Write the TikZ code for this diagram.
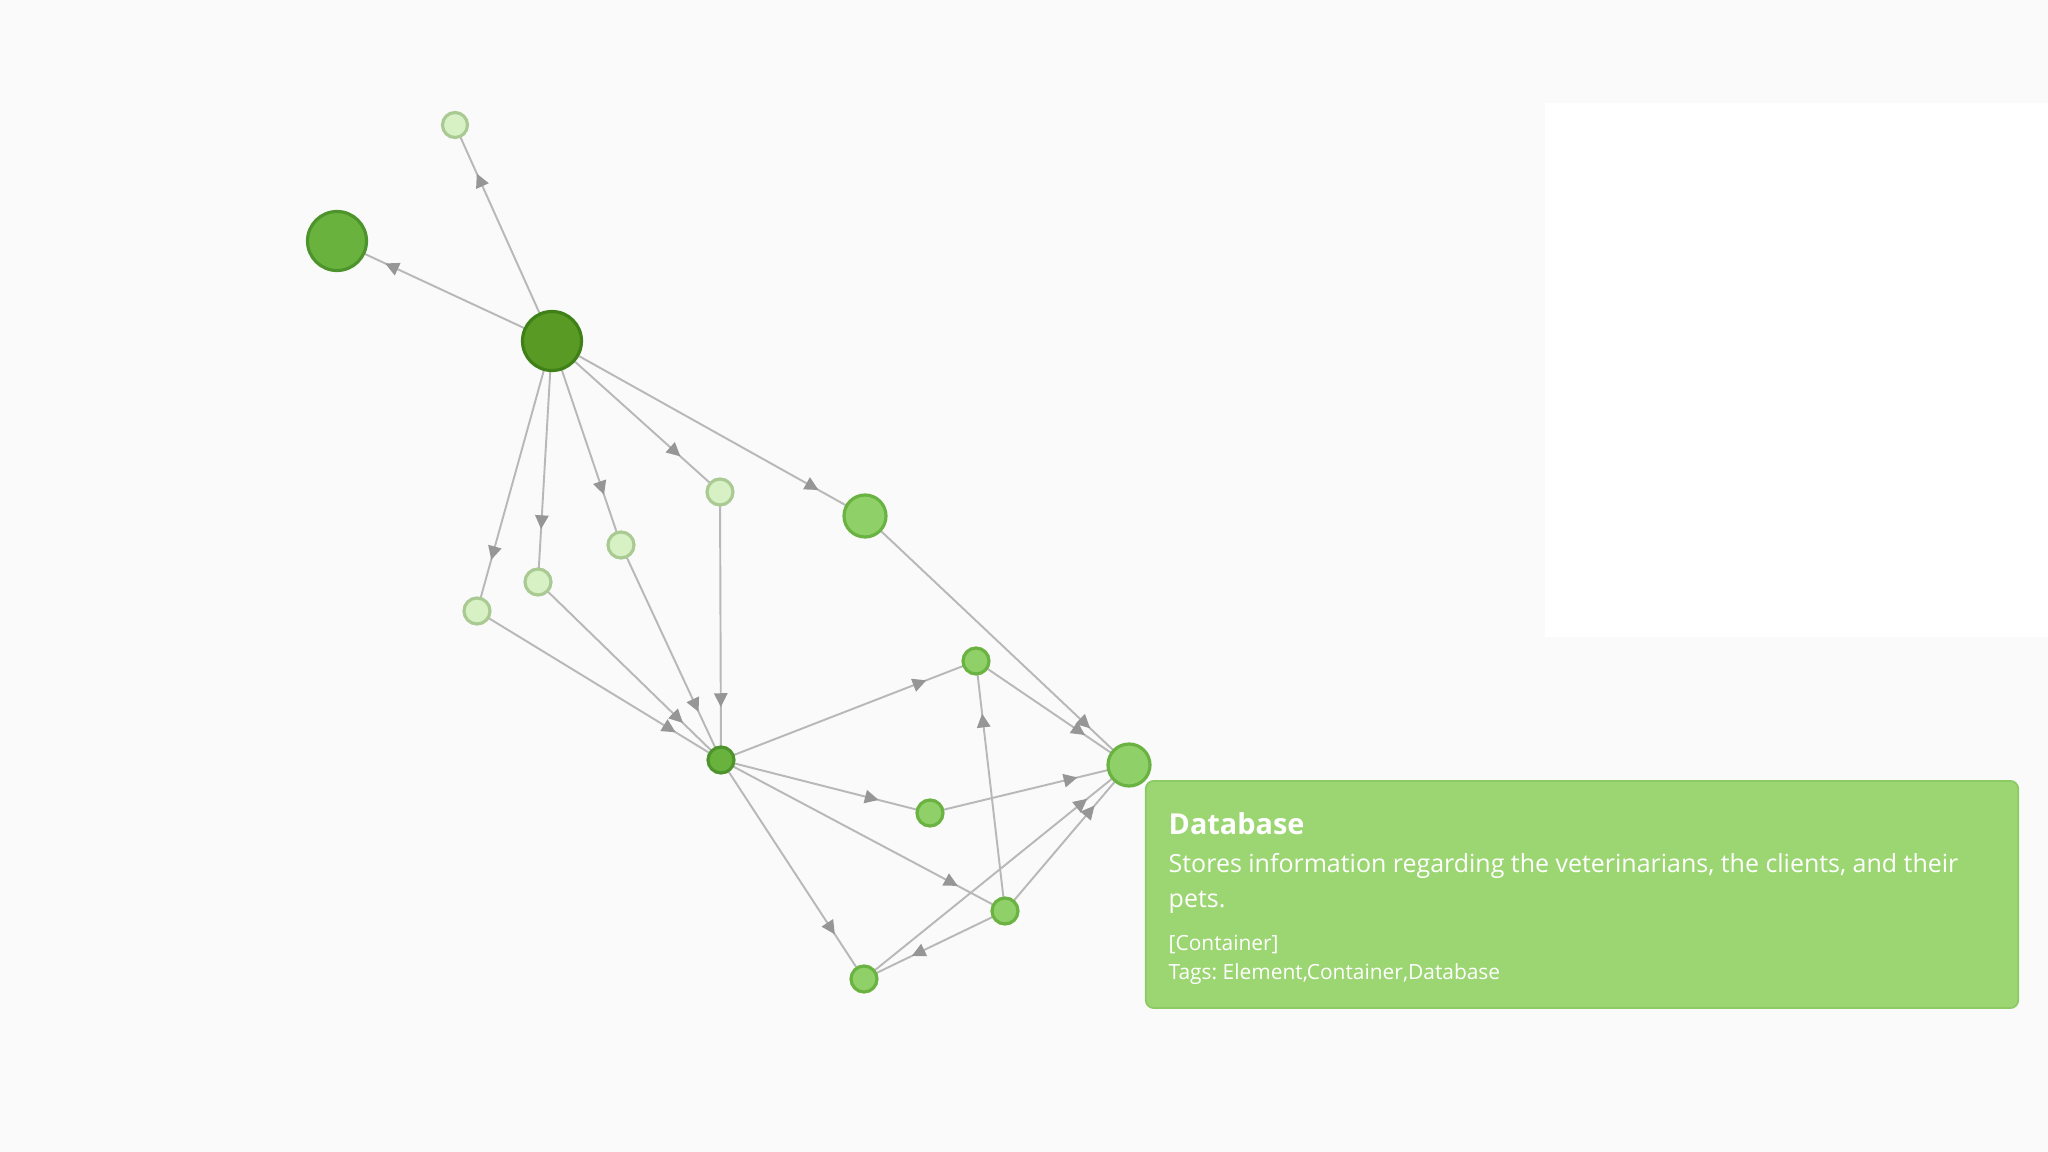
\documentclass[tikz,border=0pt]{standalone}
\usepackage{fontspec}
\setmainfont{Open Sans}
\usetikzlibrary{arrows.meta,decorations.markings,backgrounds}
\frenchspacing

\definecolor{canvas}{RGB}{250,250,250}
\definecolor{linkgray}{RGB}{184,184,184}
\definecolor{arrowgray}{RGB}{150,150,150}
\definecolor{palefill}{RGB}{216,241,196}
\definecolor{paleedge}{RGB}{170,202,148}
\definecolor{midfill}{RGB}{143,208,104}
\definecolor{midedge}{RGB}{106,178,66}
\definecolor{greenfill}{RGB}{106,178,62}
\definecolor{greenedge}{RGB}{78,148,44}
\definecolor{deepfill}{RGB}{88,154,36}
\definecolor{deepedge}{RGB}{64,128,24}
\definecolor{boxfill}{RGB}{156,214,115}
\definecolor{boxedge}{RGB}{140,202,100}

\begin{document}
\begin{tikzpicture}[
  x=0.01cm, y=-0.01cm,
  blob/.style={circle, inner sep=0pt, line width=0.9pt, minimum size=#1},
  pale/.style={blob=#1, draw=paleedge, fill=palefill},
  mid/.style={blob=#1, draw=midedge, fill=midfill},
  green/.style={blob=#1, draw=greenedge, fill=greenfill},
  deep/.style={blob=#1, draw=deepedge, fill=deepfill},
  link/.style={draw=linkgray, line width=0.55pt, postaction={decorate},
    decoration={markings, mark=at position -0.53cm with
      {\arrow{Triangle[length=3.9pt,width=3.8pt,color=arrowgray]}}}},
  tiptext/.style={anchor=base west, inner sep=0pt, text=white}
]
  \begin{scope}[on background layer]
    \fill[canvas] (0, 0) rectangle (2048, 1152);
    \fill[white] (1545, 103) rectangle (2048, 637);
  \end{scope}
  \useasboundingbox (0, 0) rectangle (2048, 1152);

  \node[pale=0.25cm]  (A) at (455, 125) {};
  \node[green=0.59cm] (B) at (337, 241) {};
  \node[deep=0.59cm]  (C) at (552, 341) {};
  \node[pale=0.26cm]  (D) at (720, 492) {};
  \node[mid=0.42cm]   (E) at (865, 516) {};
  \node[pale=0.26cm]  (F) at (621, 545) {};
  \node[pale=0.26cm]  (G) at (538, 582) {};
  \node[pale=0.26cm]  (H) at (477, 611) {};
  \node[green=0.26cm] (I) at (721, 760) {};
  \node[mid=0.26cm]   (J) at (976, 661) {};
  \node[mid=0.42cm]   (K) at (1129, 765) {};
  \node[mid=0.26cm]   (L) at (930, 813) {};
  \node[mid=0.26cm]   (M) at (1005, 911) {};
  \node[mid=0.26cm]   (N) at (864, 979) {};

  \begin{scope}[on background layer]
    \draw[link] (C.center) -- (A.center);
    \draw[link] (C.center) -- (B.center);
    \draw[link] (C.center) -- (D.center);
    \draw[link] (C.center) -- (E.center);
    \draw[link] (C.center) -- (F.center);
    \draw[link] (C.center) -- (G.center);
    \draw[link] (C.center) -- (H.center);
    \draw[link] (D.center) -- (I.center);
    \draw[link] (F.center) -- (I.center);
    \draw[link] (G.center) -- (I.center);
    \draw[link] (H.center) -- (I.center);
    \draw[link] (E.center) -- (K.center);
    \draw[link] (I.center) -- (J.center);
    \draw[link] (J.center) -- (K.center);
    \draw[link] (I.center) -- (L.center);
    \draw[link] (L.center) -- (K.center);
    \draw[link] (I.center) -- (M.center);
    \draw[link] (I.center) -- (N.center);
    \draw[link] (M.center) -- (J.center);
    \draw[link] (M.center) -- (N.center);
    \draw[link] (M.center) -- (K.center);
    \draw[link] (N.center) -- (K.center);
  \end{scope}

  \node[draw=boxedge, fill=boxfill, line width=0.5pt, rounded corners=0.08cm,
        minimum width=8.72cm, minimum height=2.27cm] (tip) at (1582, 894.5) {};

  \node[tiptext] (title) at (1168, 834)
    {\fontsize{8.2pt}{9pt}\selectfont\bfseries Database};
  \node[tiptext] (desc1) at (1168, 872)
    {\fontsize{7.1pt}{8pt}\selectfont Stores information regarding the veterinarians, the clients, and their};
  \node[tiptext] (desc2) at (1168, 907.5)
    {\fontsize{7.1pt}{8pt}\selectfont pets.};
  \node[tiptext] (kind) at (1168, 950.5)
    {\fontsize{5.95pt}{7pt}\selectfont [Container]};
  \node[tiptext] (tags) at (1168, 979)
    {\fontsize{5.95pt}{7pt}\selectfont Tags: Element,Container,Database};
\end{tikzpicture}
\end{document}
